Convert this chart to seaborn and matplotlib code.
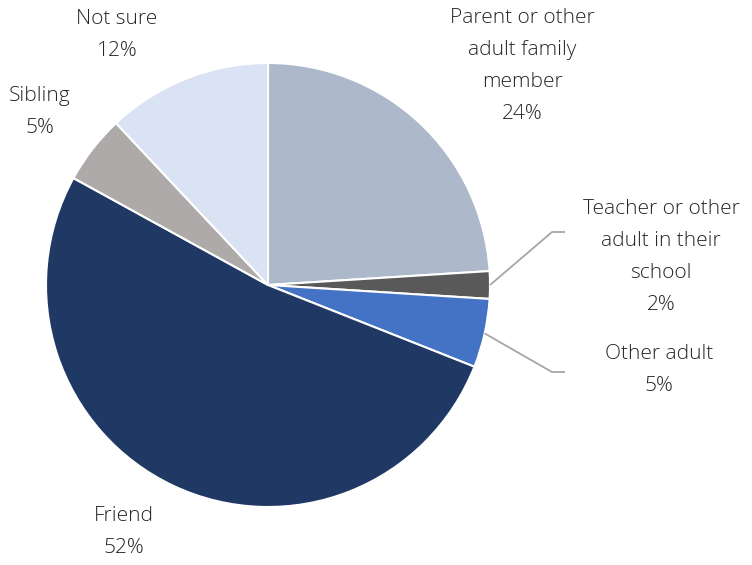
import numpy as np
import matplotlib
matplotlib.use("Agg")
import matplotlib.pyplot as plt
import seaborn as sns

categories = ["Parent or other\nadult family\nmember", "Teacher or other\nadult in their\nschool", "Other adult",
              "Friend", "Sibling", "Not sure"]
shares = [24, 2, 5, 52, 5, 12]
colors = ["#ADB9CA", "#595959", "#4472C4", "#1F3864", "#AEAAAA", "#DAE3F3"]

# label anchor positions (pixel space, y from top) and elbow height of leader lines (None = no leader)
label_pos = [(522, 66), (661, 257), (659, 370), (124, 532), (40, 112), (117, 35)]
leader_y = [None, 232, 372, None, None, None]

sns.set_theme(style="white")
plt.rcParams["font.family"] = ["Open Sans", "DejaVu Sans"]

W, H = 752, 565
fig = plt.figure(figsize=(W / 100, H / 100), dpi=100)
ax = fig.add_axes([0, 0, 1, 1])

cx, cy, r = 268, H - 285, 222
wedges, _ = ax.pie(shares, colors=sns.color_palette(colors), startangle=90, counterclock=False,
                   center=(cx, cy), radius=r, frame=True,
                   wedgeprops=dict(edgecolor="white", linewidth=1.5))
ax.set_xlim(0, W)
ax.set_ylim(0, H)
ax.set_aspect("equal")
ax.axis("off")

for w, cat, val, (px, py), ly in zip(wedges, categories, shares, label_pos, leader_y):
    ax.text(px, H - py, f"{cat}\n{val}%", ha="center", va="center", fontsize=15,
            fontweight="light", color="#262626", linespacing=1.78)
    if ly is not None:
        mid = np.deg2rad((w.theta1 + w.theta2) / 2)
        x0, y0 = cx + r * np.cos(mid), cy + r * np.sin(mid)
        ax.plot([x0, 552, 565], [y0, H - ly, H - ly], color="#A6A6A6", lw=1.3,
                solid_capstyle="butt")

fig.savefig("out.png", dpi=100, facecolor="white")
